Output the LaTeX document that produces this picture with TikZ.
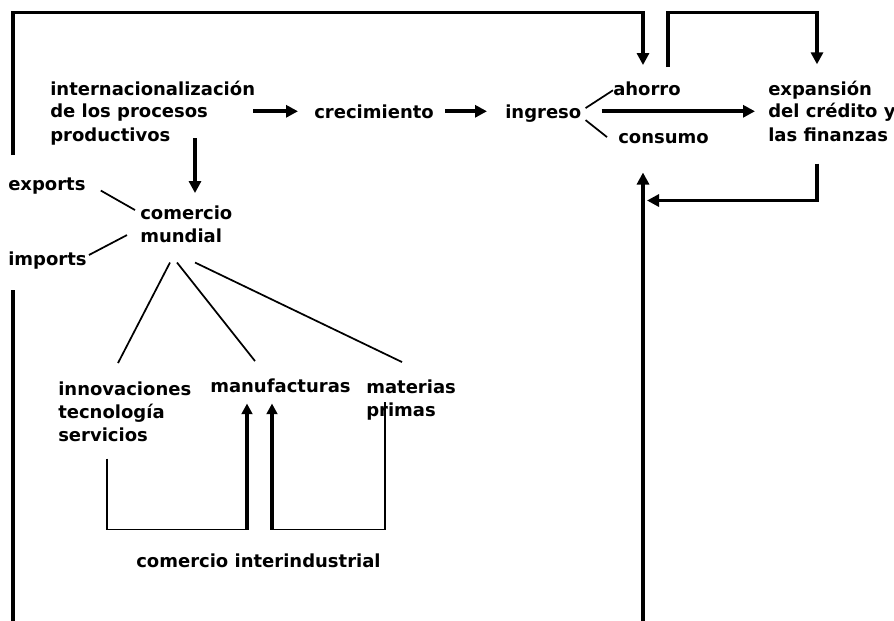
\documentclass[tikz,border=0pt]{standalone}
\usepackage{fontspec}
\setmainfont{DejaVu Sans}
\usetikzlibrary{arrows.meta,calc}

\tikzset{
  lbl/.style={font=\fontsize{13.5}{17.25}\selectfont\bfseries, inner sep=0pt, align=left, anchor=base west},
  thinline/.style={line width=1.3pt},
  frame/.style={line width=2.3pt},
  bigarrow/.style={line width=2.8pt, -{Triangle[length=9pt,width=9pt]}},
  uparrow/.style={line width=2.6pt, -{Triangle[length=8pt,width=8pt]}}
}

\begin{document}
\begin{tikzpicture}[x=0.75pt,y=0.75pt,yscale=-1,xscale=1]
\useasboundingbox (0,0) rectangle (894,621);

% Text Node
\draw (50,141) node (intl) [lbl] {internacionalización\\de los procesos\\productivos};
% Text Node
\draw (314,118) node (crec) [lbl] {crecimiento};
% Text Node
\draw (505,118) node (ingr) [lbl] {ingreso};
% Text Node
\draw (613,95) node (ahorro) [lbl] {ahorro};
% Text Node
\draw (618,143) node (consumo) [lbl] {consumo};
% Text Node
\draw (768,141) node (expan) [lbl] {expansión\\del crédito y\\las finanzas};
% Text Node
\draw (8,190) node (expo) [lbl] {exports};
% Text Node
\draw (140,242) node (com) [lbl] {comercio\\mundial};
% Text Node
\draw (8,265) node (impo) [lbl] {imports};
% Text Node
\draw (58,441) node (innov) [lbl] {innovaciones\\tecnología\\servicios};
% Text Node
\draw (210,392) node (manuf) [lbl] {manufacturas};
% Text Node
\draw (366,416) node (mater) [lbl] {materias\\primas};
% Text Node
\draw (136,567) node (interind) [lbl] {comercio interindustrial};

% free ends of the outer loop
\coordinate (frameTop) at (13,155);
\coordinate (frameLow) at (13,290);
\coordinate (frameBot) at (13,621);
\coordinate (loopBot) at (643,621);

%Straight Lines
\draw [bigarrow] ($(crec.west -| intl.east)+(-2,0)$) -- ($(crec.west)+(-16,0)$);
\draw [bigarrow] ($(crec.east)+(11,0)$) -- ($(crec.west -| ingr.west)+(-18,0)$);
\draw [bigarrow] ($(crec.east -| ingr.east)+(20,0)$) -- ($(crec.east -| expan.west)+(-13,0)$);
%Straight Lines
\draw [thinline] ($(ingr.east)+(4,-5)$) -- ($(ahorro.west)+(0,2)$);
\draw [thinline] ($(ingr.east)+(4,7)$) -- ($(consumo.west)+(-11,-1)$);
%Straight Lines
\draw [frame, -{Triangle[length=9pt,width=9pt]}] (frameTop) |- ($(ahorro.north west)+(30,-69)$) -- ($(ahorro.north west)+(30,-16)$);
\draw [frame, -{Triangle[length=9pt,width=9pt]}] ($(ahorro.north west)+(55,-14)$) -- ++(0,-55) -| ($(expan.north west)+(49,-16)$);
\draw [frame, -{Triangle[length=9pt,width=9pt]}] ($(expan.south west)+(49,22)$) |- ($(consumo.south west)+(29,57)$);
\draw [frame, -{Triangle[length=9pt,width=9pt]}] (loopBot) -- ($(consumo.south west)+(25,29)$);
\draw [frame] (frameLow) -- (frameBot);
%Straight Lines
\draw [bigarrow] ($(com.north west)+(55,-67)$) -- ($(com.north west)+(55,-12)$);
\draw [thinline] ($(expo.east)+(15,5)$) -- ($(com.north west)+(-5,5)$);
\draw [thinline] ($(impo.east)+(2,-5)$) -- ($(com.north west)+(-13,30)$);
%Straight Lines
\draw [thinline] ($(com.south west)+(30,20)$) -- ($(innov.north west)+(60,-18)$);
\draw [thinline] ($(com.south west)+(37,20)$) -- ($(manuf.north west)+(45,-17)$);
\draw [thinline] ($(com.south west)+(55,20)$) -- ($(mater.north west)+(36,-17)$);
%Straight Lines
\draw [thinline] ($(innov.south west)+(49,17)$) |- ($(manuf.south west)+(37,137)$);
\draw [uparrow] ($(manuf.south west)+(37,137)$) -- ($(manuf.south west)+(37,11)$);
\draw [thinline] ($(mater.south west)+(19,-18)$) |- ($(manuf.south west)+(62,137)$);
\draw [uparrow] ($(manuf.south west)+(62,137)$) -- ($(manuf.south west)+(62,11)$);

\end{tikzpicture}
\end{document}
